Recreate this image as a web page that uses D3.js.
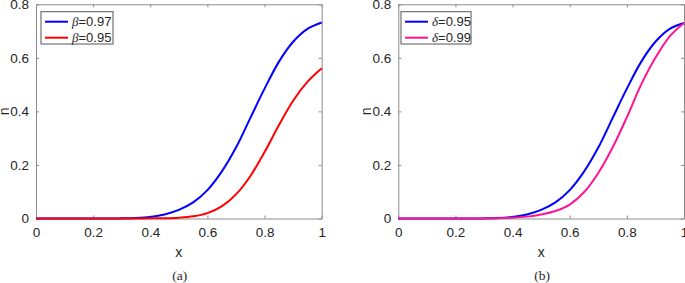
<!DOCTYPE html>
<html>
<head>
<meta charset="utf-8" />
<style>
  body { margin: 0; background: #fff; }
  svg { display: block; }
  text { font-family: "Liberation Sans", Arial, sans-serif; fill: #262626; }
</style>
</head>
<body>
<script src="https://cdn.jsdelivr.net/npm/d3@7"></script>
<script>

const W = 685, H = 283;

// sample points on x
const xs = [0, 0.05, 0.1, 0.15, 0.2, 0.25, 0.3, 0.35, 0.4, 0.45, 0.5, 0.55, 0.6, 0.65, 0.7, 0.75, 0.8, 0.85, 0.9, 0.95, 1];

// panel (a)
const beta97 = [0, 0, 0, 0, 0, 0, 0.0005, 0.002, 0.006, 0.015, 0.032, 0.06, 0.106, 0.175, 0.265, 0.375, 0.485, 0.585, 0.66, 0.708, 0.732];
const beta95 = [0, 0, 0, 0, 0, 0, 0, 0, 0.0005, 0.001, 0.003, 0.008, 0.02, 0.045, 0.09, 0.158, 0.248, 0.348, 0.44, 0.51, 0.561];

// panel (b)
const delta95 = [0, 0, 0, 0, 0, 0, 0.0005, 0.002, 0.006, 0.015, 0.032, 0.06, 0.106, 0.175, 0.265, 0.375, 0.485, 0.585, 0.66, 0.708, 0.73];
const delta99 = [0, 0, 0, 0, 0, 0, 0, 0.001, 0.003, 0.007, 0.015, 0.028, 0.052, 0.098, 0.17, 0.265, 0.378, 0.5, 0.6, 0.68, 0.73];

const xTicks = [0, 0.2, 0.4, 0.6, 0.8, 1];
const yTicks = [0, 0.2, 0.4, 0.6, 0.8];

const panels = [
  {
    left: 36, right: 321.7, tag: '(a)', sym: 'β',
    series: [
      { label: '=0.97', values: beta97, color: '#0000ff' },
      { label: '=0.95', values: beta95, color: '#ff0000' }
    ],
    legend: { x: 41, w: 72 }
  },
  {
    left: 398.3, right: 684, tag: '(b)', sym: 'δ',
    series: [
      { label: '=0.95', values: delta95, color: '#0000ff' },
      { label: '=0.99', values: delta99, color: '#ff1493' }
    ],
    legend: { x: 401, w: 70 }
  }
];

const plotTop = 4.3, plotBottom = 218.5;

const svg = d3.select('body').append('svg')
  .attr('width', W)
  .attr('height', H);

panels.forEach(p => {
  const x = d3.scaleLinear().domain([0, 1]).range([p.left, p.right]);
  const y = d3.scaleLinear().domain([0, 0.8]).range([plotBottom, plotTop]);
  const g = svg.append('g');

  // axes, MATLAB style with ticks inside and box on
  const ax = g.append('g').attr('transform', `translate(0,${plotBottom})`)
    .call(d3.axisBottom(x).tickValues(xTicks).tickSizeInner(-3).tickSizeOuter(0).tickPadding(9)
      .tickFormat(d => d === 0 || d === 1 ? d : d3.format('.1f')(d)));
  const ay = g.append('g').attr('transform', `translate(${p.left},0)`)
    .call(d3.axisLeft(y).tickValues(yTicks).tickSizeInner(-3).tickSizeOuter(0).tickPadding(7)
      .tickFormat(d => d === 0 ? '0' : d3.format('.1f')(d)));
  const ax2 = g.append('g').attr('transform', `translate(0,${plotTop})`)
    .call(d3.axisTop(x).tickValues(xTicks).tickSizeInner(-3).tickSizeOuter(0).tickFormat(''));
  const ay2 = g.append('g').attr('transform', `translate(${p.right},0)`)
    .call(d3.axisRight(y).tickValues(yTicks).tickSizeInner(-3).tickSizeOuter(0).tickFormat(''));

  [ax, ay, ax2, ay2].forEach(a => {
    a.select('.domain').attr('stroke', '#8c8c8c').attr('stroke-width', 1);
    a.selectAll('.tick line').attr('stroke', '#8c8c8c');
    a.selectAll('.tick text').attr('font-size', 13.5).attr('fill', '#262626')
      .attr('font-family', '"Liberation Sans", Arial, sans-serif');
  });

  // curves
  const line = d3.line()
    .x((d, i) => x(xs[i]))
    .y(d => y(Math.max(0, d)))
    .curve(d3.curveCatmullRom.alpha(0.5));

  p.series.forEach(s => {
    g.append('path')
      .datum(s.values)
      .attr('d', line)
      .attr('fill', 'none')
      .attr('stroke', s.color)
      .attr('stroke-width', 2);
  });

  // axis labels
  g.append('text')
    .attr('x', (p.left + p.right) / 2)
    .attr('y', 257)
    .attr('text-anchor', 'middle')
    .attr('font-size', 14)
    .text('x');

  g.append('text')
    .attr('transform', `translate(${p.left - 27},${(plotTop + plotBottom) / 2}) rotate(-90)`)
    .attr('text-anchor', 'middle')
    .attr('font-size', 14)
    .text('n');

  g.append('text')
    .attr('x', (p.left + p.right) / 2 + 1)
    .attr('y', 280)
    .attr('text-anchor', 'middle')
    .attr('font-size', 13.5)
    .style('font-family', '"Liberation Serif", "Times New Roman", serif')
    .text(p.tag);

  // legend
  const lg = g.append('g');
  lg.append('rect')
    .attr('x', p.legend.x).attr('y', 11.7)
    .attr('width', p.legend.w).attr('height', 32.3)
    .attr('fill', '#fff').attr('stroke', '#555').attr('stroke-width', 1);

  p.series.forEach((s, i) => {
    const cy = 21.7 + i * 16;
    lg.append('line')
      .attr('x1', p.legend.x + 4).attr('x2', p.legend.x + 27)
      .attr('y1', cy).attr('y2', cy)
      .attr('stroke', s.color).attr('stroke-width', 2);
    const t = lg.append('text')
      .attr('x', p.legend.x + 31).attr('y', cy + 4.5)
      .attr('font-size', 13);
    t.append('tspan')
      .style('font-family', '"Liberation Serif", "Times New Roman", serif')
      .style('font-style', 'italic')
      .text(p.sym);
    t.append('tspan').text(s.label);
  });
});

</script>
</body>
</html>
